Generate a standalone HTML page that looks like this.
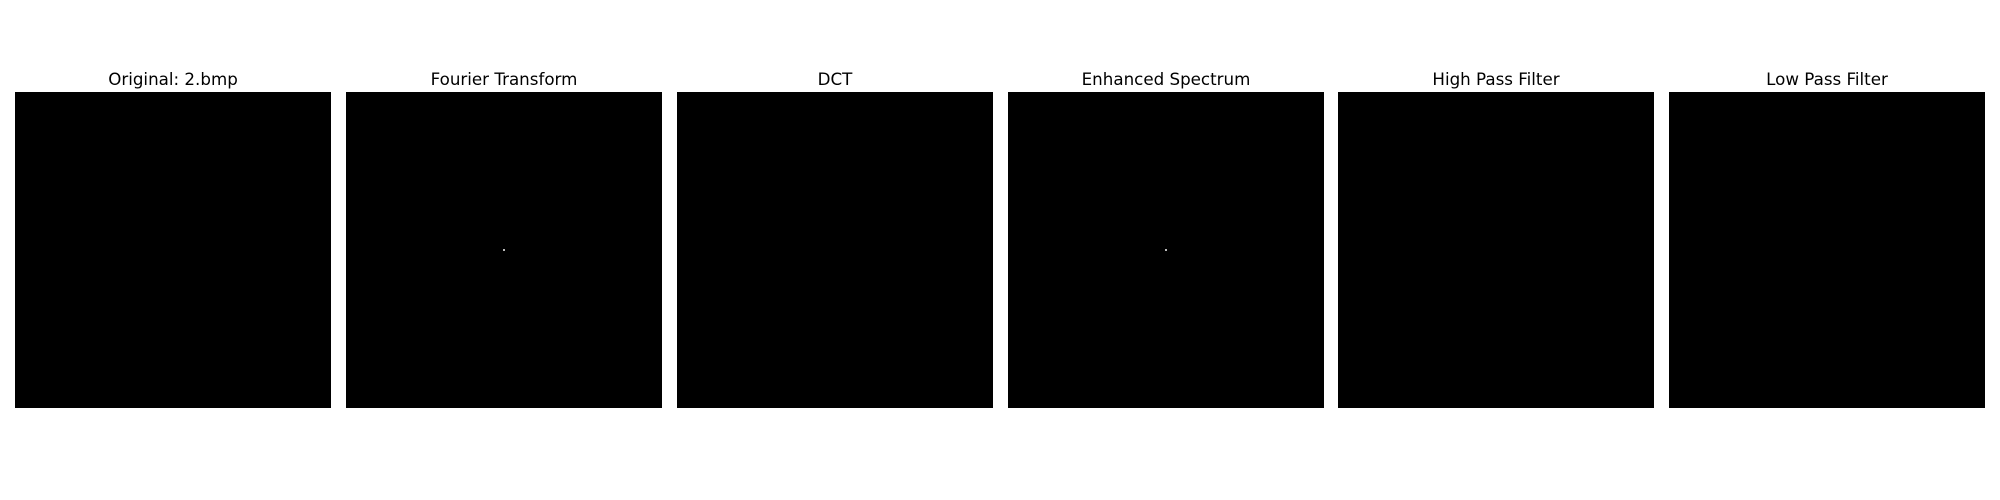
<!DOCTYPE html>
<html><head><meta charset="utf-8"><style>
html,body{margin:0;padding:0;background:#fff;width:2000px;height:500px;overflow:hidden;font-family:"DejaVu Sans","Liberation Sans",sans-serif}
.panel{position:absolute;top:92px;width:316px;height:316px;background:#000}
.title{position:absolute;top:69px;width:316px;text-align:center;font-size:16.7px;color:#000;line-height:20px}
.dot{position:absolute;width:2px;height:2px;background:#bbb}
</style></head><body>
<div id="root"></div>
<script>
const titles=["Original: 2.bmp","Fourier Transform","DCT","Enhanced Spectrum","High Pass Filter","Low Pass Filter"];
const names=["original-image","fourier-transform","dct","enhanced-spectrum","high-pass-filter","low-pass-filter"];
const hasDot=[false,true,false,true,false,false];
const lefts=[15,346,677,1008,1338,1669];
const root=document.getElementById('root');
for(let i=0;i<titles.length;i++){
  const t=document.createElement('div');
  t.className='title';t.style.left=lefts[i]+'px';t.textContent=titles[i];
  
  
  root.appendChild(t);
  const p=document.createElement('div');
  p.className='panel';p.style.left=lefts[i]+'px';
  
  
  if(hasDot[i]){
    const d=document.createElement('div');
    d.className='dot';d.style.left='157px';d.style.top='157px';
    
    
    p.appendChild(d);
  }
  root.appendChild(p);
}
</script>
</body></html>
